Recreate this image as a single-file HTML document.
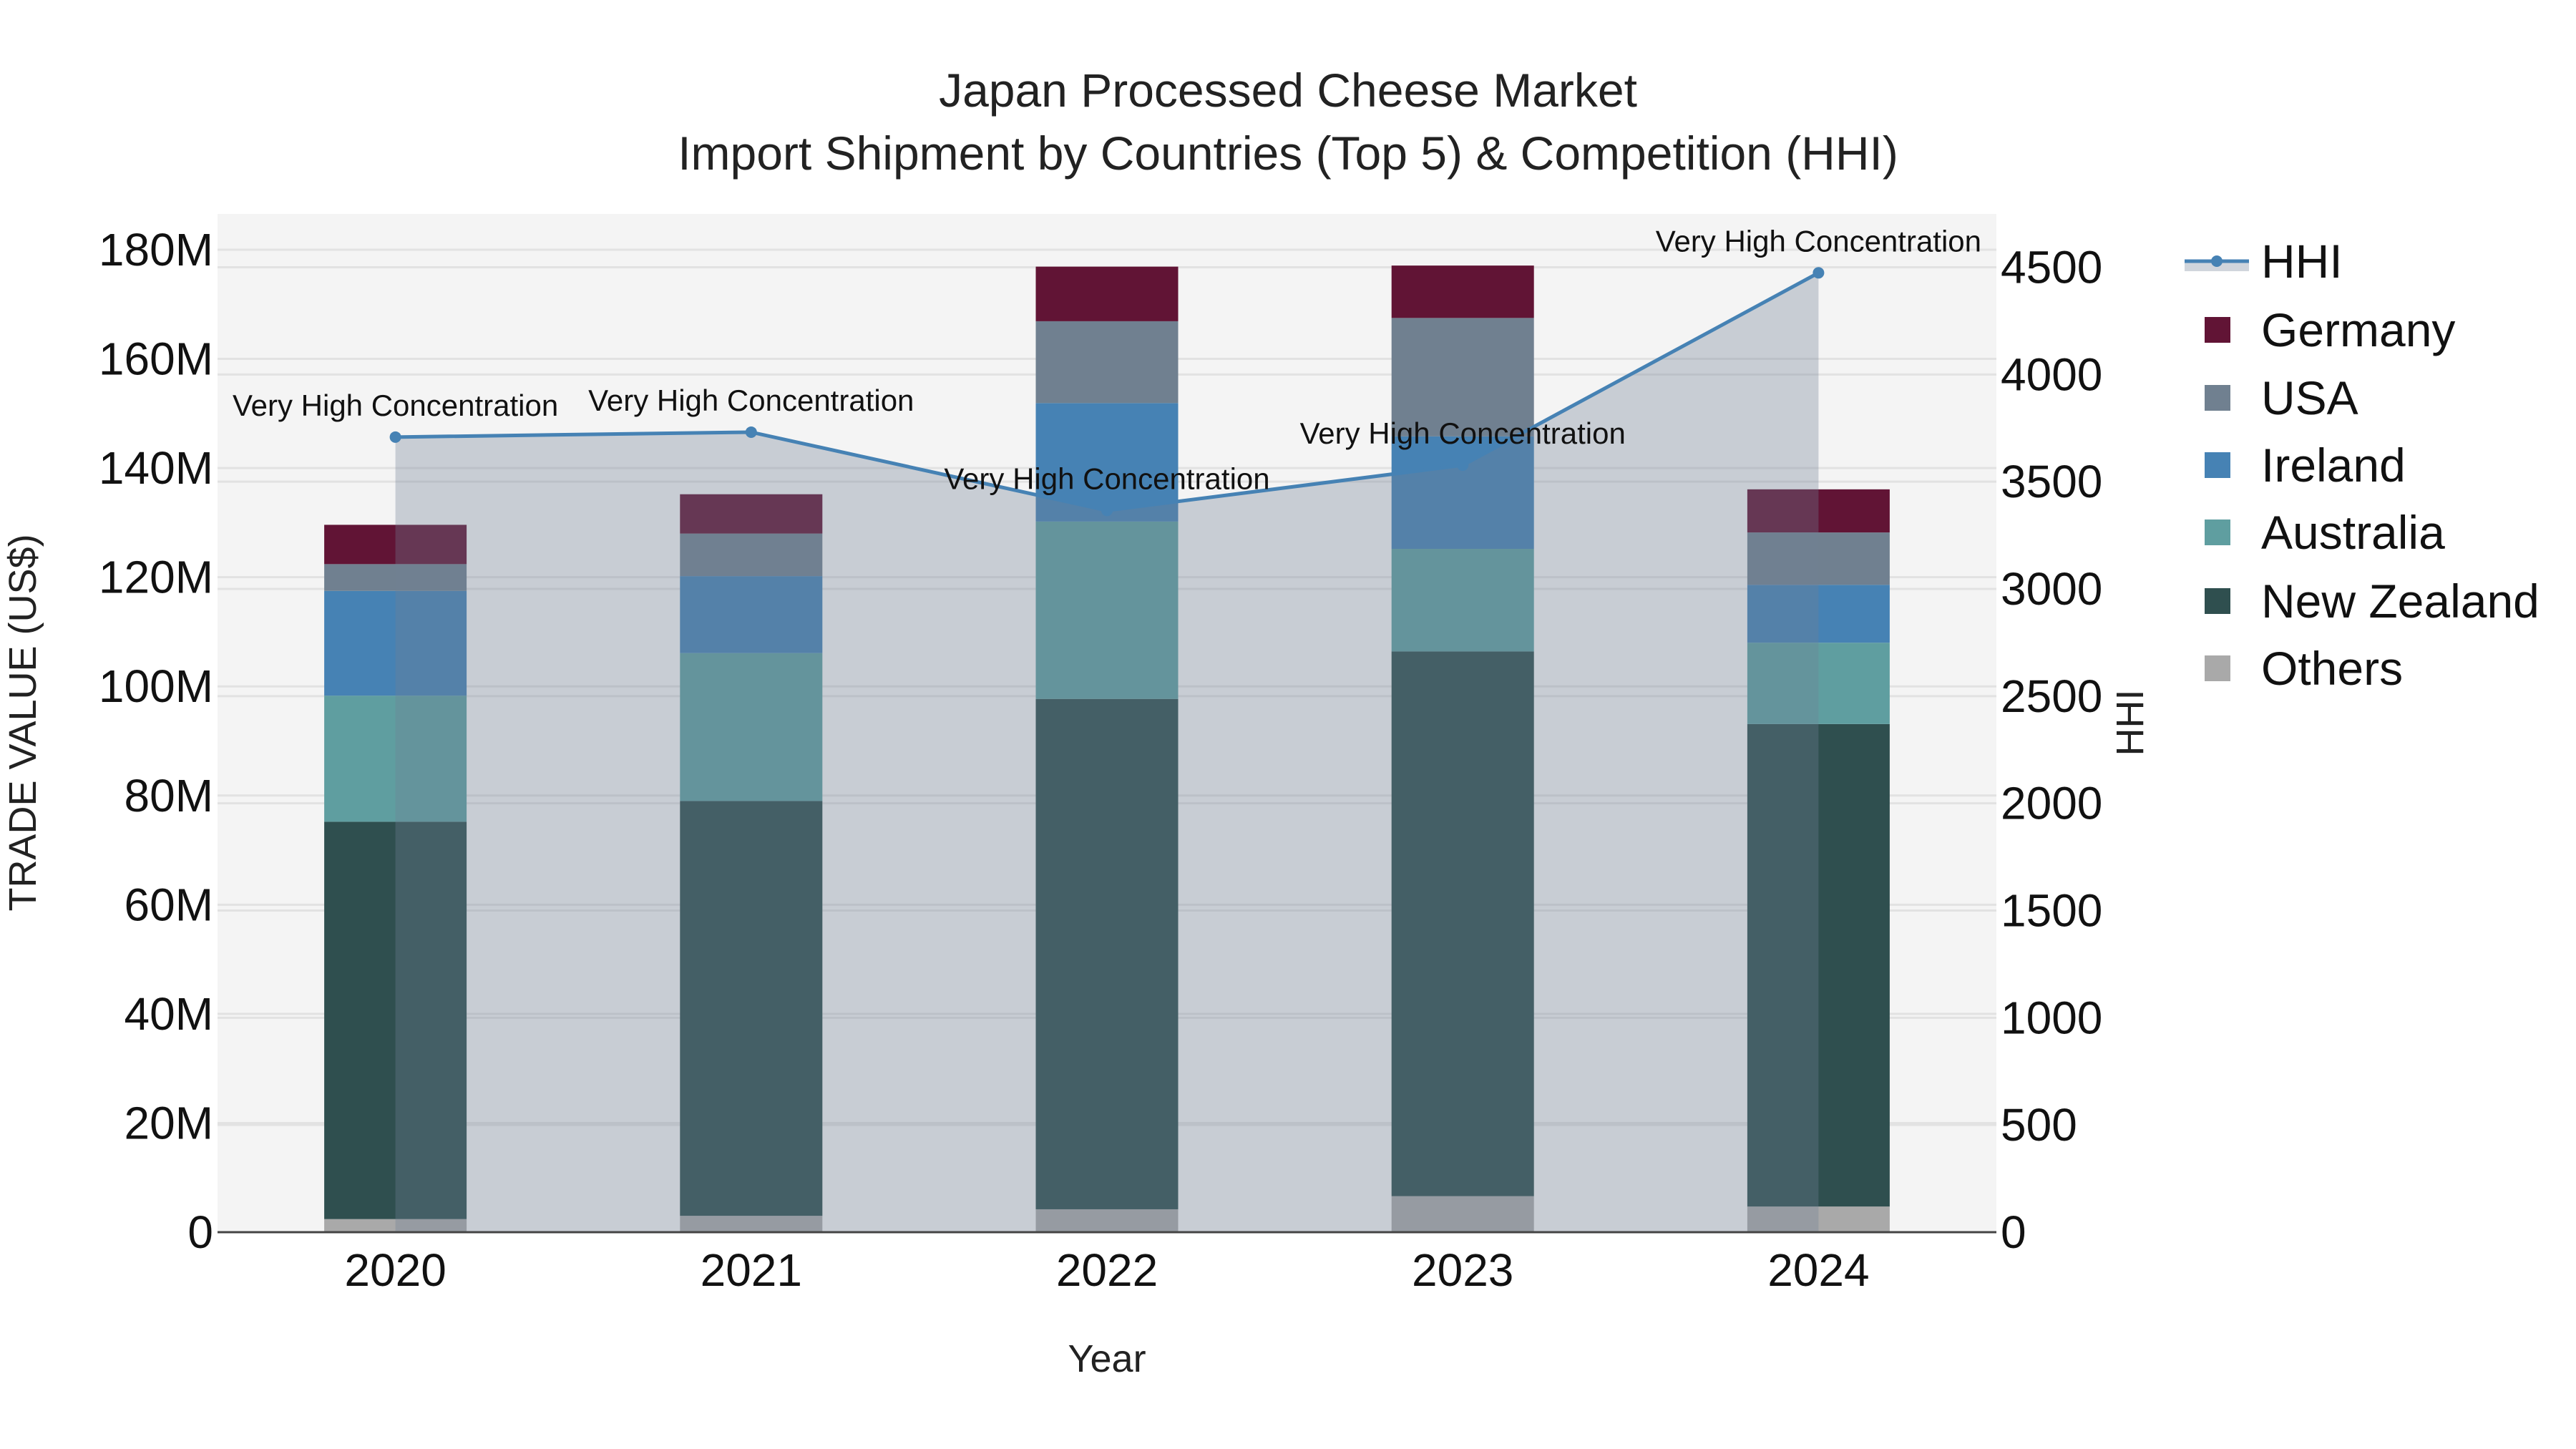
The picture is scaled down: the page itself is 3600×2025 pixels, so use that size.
<!DOCTYPE html>
<html><head><meta charset="utf-8">
<style>
html,body{margin:0;padding:0;background:#fff;}
svg{display:block;font-family:"Liberation Sans",Arial,sans-serif;}
</style></head>
<body>
<svg id="chart" width="3600" height="2025" viewBox="0 0 3600 2025" xmlns="http://www.w3.org/2000/svg">
<rect x="0" y="0" width="3600" height="2025" fill="#ffffff"/>
<text x="1800" y="149" font-size="66" text-anchor="middle" fill="#222">Japan Processed Cheese Market</text>
<text x="1800" y="237" font-size="66" text-anchor="middle" fill="#222">Import Shipment by Countries (Top 5) &amp; Competition (HHI)</text>
<rect x="304" y="299" width="2486" height="1423" fill="#f4f4f4"/>
<g id="grid"></g>
<g id="bars"></g>
<g id="hhi"></g>
<g id="axes"></g>
<g id="legend"></g>
</svg>
<script>
const years = ["2020","2021","2022","2023","2024"];
const seriesNames = ["Others","New Zealand","Australia","Ireland","USA","Germany"];
const others     = [2.4, 3.0, 4.2, 6.6, 4.7];
const newZealand = [72.8, 76.0, 93.5, 99.8, 88.4];
const australia  = [23.1, 27.1, 32.5, 18.8, 14.9];
const ireland    = [19.2, 14.1, 21.7, 20.6, 10.6];
const usa        = [4.9, 7.8, 15.0, 21.7, 9.6];
const germany    = [7.2, 7.2, 10.0, 9.6, 7.9];
const hhiValues  = [3708, 3731, 3366, 3577, 4474];
const hhiLabels  = ["Very High Concentration","Very High Concentration","Very High Concentration","Very High Concentration","Very High Concentration"];
const leftTicks  = [0,20,40,60,80,100,120,140,160,180];
const rightTicks = [0,500,1000,1500,2000,2500,3000,3500,4000,4500];

const NS="http://www.w3.org/2000/svg";
const colors = {"Others":"#a9a9a9","New Zealand":"#2f4f4f","Australia":"#5f9ea0","Ireland":"#4682b4","USA":"#708090","Germany":"#611435"};
const seriesData = {"Others":others,"New Zealand":newZealand,"Australia":australia,"Ireland":ireland,"USA":usa,"Germany":germany};
const PL=304, PR=2790, PT=299, PB=1722;
const yL = v => PB - v*(1373/180);
const yR = v => PB - v*(1348.5/4500);
const band = (PR-PL)/years.length;
const xC = i => PL + band*(i+0.5);
const BW = 199;
function el(tag, attrs, parent){const e=document.createElementNS(NS,tag);for(const k in attrs)e.setAttribute(k,attrs[k]);parent.appendChild(e);return e;}

const grid=document.getElementById('grid');
leftTicks.forEach(t=>{
  const l=el('line',{x1:PL,x2:PR,y1:yL(t),y2:yL(t),stroke:'#e2e2e2','stroke-width':3},grid);
  
  
});
rightTicks.forEach(t=>{
  const l=el('line',{x1:PL,x2:PR,y1:yR(t),y2:yR(t),stroke:'#e2e2e2','stroke-width':3},grid);
  
  
});

const bars=document.getElementById('bars');
years.forEach((y,i)=>{
  let base=0;
  seriesNames.forEach(s=>{
    const v=seriesData[s][i];
    const r=el('rect',{x:xC(i)-BW/2,y:yL(base+v),width:BW,height:yL(base)-yL(base+v),fill:colors[s]},bars);
    
    
    base+=v;
  });
});

const hg=document.getElementById('hhi');
let d='M'+xC(0)+','+PB;
hhiValues.forEach((v,i)=>{d+=' L'+xC(i)+','+yR(v);});
d+=' L'+xC(hhiValues.length-1)+','+PB+' Z';
const area=el('path',{d:d,fill:'rgba(112,128,148,0.33)'},hg);


const pts=hhiValues.map((v,i)=>xC(i)+','+yR(v)).join(' ');
const line=el('polyline',{points:pts,fill:'none',stroke:'#4682b4','stroke-width':5},hg);


hhiValues.forEach((v,i)=>{
  const c=el('circle',{cx:xC(i),cy:yR(v),r:8,fill:'#4682b4'},hg);
  
  
  const t=el('text',{x:xC(i),y:yR(v)-30,'font-size':42,'text-anchor':'middle',fill:'#111'},hg);
  t.textContent=hhiLabels[i];
  
  
});

const ax=document.getElementById('axes');
const xl=el('line',{x1:PL,x2:PR,y1:PB,y2:PB,stroke:'#444','stroke-width':3},ax);


leftTicks.forEach(t=>{
  const e=el('text',{x:298,y:yL(t)+22,'font-size':64,'text-anchor':'end',fill:'#111'},ax);
  e.textContent=t===0?'0':t+'M';
  
  
});
rightTicks.forEach(t=>{
  const e=el('text',{x:2796,y:yR(t)+22,'font-size':64,'text-anchor':'start',fill:'#111'},ax);
  e.textContent=String(t);
  
  
});
years.forEach((y,i)=>{
  const e=el('text',{x:xC(i),y:1797,'font-size':64,'text-anchor':'middle',fill:'#111'},ax);
  e.textContent=y;
  
  
});
const xt=el('text',{x:1547,y:1917,'font-size':54,'text-anchor':'middle',fill:'#222'},ax);
xt.textContent='Year';


const yt=el('text',{x:0,y:0,'font-size':54,'text-anchor':'middle',fill:'#222',transform:'translate(50,1010) rotate(-90)'},ax);
yt.textContent='TRADE VALUE (US$)';


const yt2=el('text',{x:0,y:0,'font-size':54,'text-anchor':'middle',fill:'#222',transform:'translate(2995,1010) rotate(-90)'},ax);
yt2.textContent='HHI';



const lg=document.getElementById('legend');
const ly=[365,461,556,650,744,840,934];
const hb=el('rect',{x:3053,y:ly[0],width:90,height:14,fill:'rgba(112,128,148,0.33)'},lg);


const hl=el('line',{x1:3053,x2:3143,y1:ly[0],y2:ly[0],stroke:'#4682b4','stroke-width':5},lg);


const hc=el('circle',{cx:3098,cy:ly[0],r:8,fill:'#4682b4'},lg);


const ht=el('text',{x:3160,y:ly[0]+23,'font-size':66,fill:'#111'},lg);
ht.textContent='HHI';


const legOrder=["Germany","USA","Ireland","Australia","New Zealand","Others"];
legOrder.forEach((s,k)=>{
  const y=ly[k+1];
  const r=el('rect',{x:3081,y:y-18,width:36,height:36,fill:colors[s]},lg);
  
  
  const t=el('text',{x:3160,y:y+23,'font-size':66,fill:'#111'},lg);
  t.textContent=s;
  
  
});
</script>
</body></html>
